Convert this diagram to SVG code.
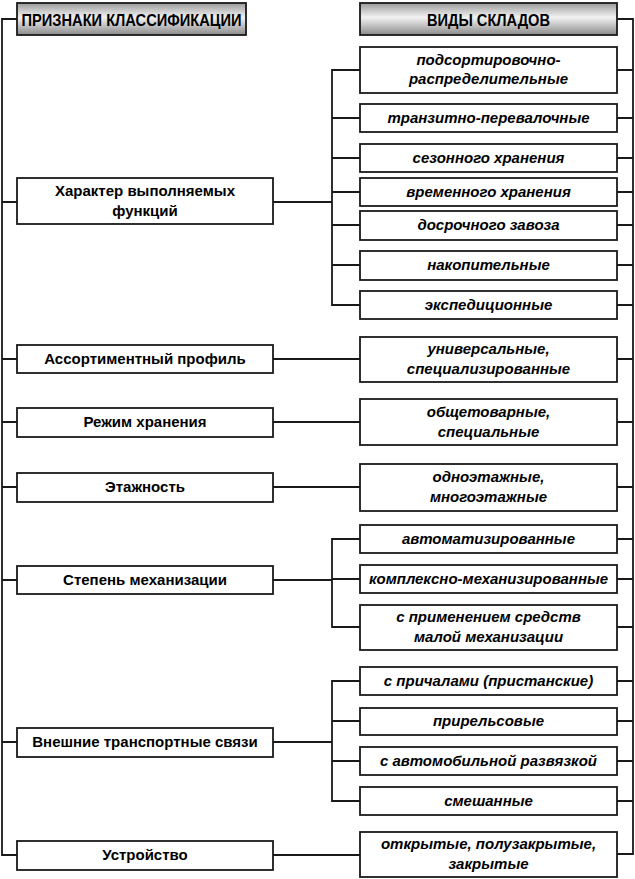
<svg xmlns="http://www.w3.org/2000/svg" width="635" height="879" viewBox="0 0 635 879">
<style>
.box{fill:#fff;stroke:#1a1a1a;stroke-width:1.8}
.hdr{fill:url(#g);stroke:#1a1a1a;stroke-width:1.8}
.ln{fill:none;stroke:#1a1a1a;stroke-width:1.8}
.lt{font-family:"Liberation Sans",Arial,sans-serif;font-weight:bold;font-size:15px;fill:#000;text-anchor:middle}
.rt{font-family:"Liberation Sans",Arial,sans-serif;font-weight:bold;font-style:italic;font-size:15px;fill:#000;text-anchor:middle}
.ht{font-family:"Liberation Sans",Arial,sans-serif;font-weight:bold;font-size:17px;fill:#000;text-anchor:middle}
</style>
<defs>
<linearGradient id="g" x1="0" y1="0" x2="0" y2="1">
<stop offset="0" stop-color="#9a9a9a"/>
<stop offset="0.45" stop-color="#f2f2f2"/>
<stop offset="1" stop-color="#8a8a8a"/>
</linearGradient>
</defs>
<g id="connectors">
<path class="ln" d="M17,19 H2 V855 H17"/>
<path class="ln" d="M2,202 H17 M2,359 H17 M2,422 H17 M2,487 H17 M2,580 H17 M2,742 H17"/>
<path class="ln" d="M617,19 H633 V854 H617"/>
<path class="ln" d="M617,70 H633 M617,118 H633 M617,158 H633 M617,192 H633 M617,225 H633 M617,265 H633 M617,305 H633 M617,359 H633 M617,422 H633 M617,487 H633 M617,539 H633 M617,579 H633 M617,627 H633 M617,681 H633 M617,721 H633 M617,761 H633 M617,801 H633"/>
<path class="ln" d="M273,202 H332 M360,70 H332 V305 H360 M332,118 H360 M332,158 H360 M332,192 H360 M332,225 H360 M332,265 H360"/>
<path class="ln" d="M273,359 H360 M273,422 H360 M273,487 H360 M273,855 H360"/>
<path class="ln" d="M273,580 H332 M360,539 H332 V627 H360 M332,579 H360"/>
<path class="ln" d="M273,742 H332 M360,681 H332 V801 H360 M332,721 H360 M332,761 H360"/>
</g>
<g id="hdr-left"><rect class="hdr" x="17" y="3" width="229" height="32"/><text class="ht" x="131.5" y="25.5" textLength="220" lengthAdjust="spacingAndGlyphs">ПРИЗНАКИ КЛАССИФИКАЦИИ</text></g>
<g id="hdr-right"><rect class="hdr" x="360" y="3" width="257" height="32"/><text class="ht" x="488.5" y="25.5" textLength="123" lengthAdjust="spacingAndGlyphs">ВИДЫ СКЛАДОВ</text></g>

<g id="l1"><rect class="box" x="17" y="178" width="256" height="46"/><text class="lt" x="145" y="196">Характер выполняемых</text><text class="lt" x="145" y="216">функций</text></g>
<g id="l2"><rect class="box" x="17" y="345" width="256" height="28"/><text class="lt" x="145" y="364">Ассортиментный профиль</text></g>
<g id="l3"><rect class="box" x="17" y="408" width="256" height="29"/><text class="lt" x="145" y="427">Режим хранения</text></g>
<g id="l4"><rect class="box" x="17" y="473" width="256" height="29"/><text class="lt" x="145" y="492">Этажность</text></g>
<g id="l5"><rect class="box" x="17" y="566" width="256" height="28"/><text class="lt" x="145" y="585">Степень механизации</text></g>
<g id="l6"><rect class="box" x="17" y="728" width="256" height="29"/><text class="lt" x="145" y="747">Внешние транспортные связи</text></g>
<g id="l7"><rect class="box" x="17" y="841" width="256" height="29"/><text class="lt" x="145" y="860">Устройство</text></g>

<g id="r1"><rect class="box" x="360" y="47" width="257" height="46"/><text class="rt" x="488.5" y="65">подсортировочно-</text><text class="rt" x="488.5" y="84">распределительные</text></g>
<g id="r2"><rect class="box" x="360" y="104" width="257" height="28"/><text class="rt" x="488.5" y="123">транзитно-перевалочные</text></g>
<g id="r3"><rect class="box" x="360" y="144" width="257" height="28"/><text class="rt" x="488.5" y="163">сезонного хранения</text></g>
<g id="r4"><rect class="box" x="360" y="178" width="257" height="28"/><text class="rt" x="488.5" y="197">временного хранения</text></g>
<g id="r5"><rect class="box" x="360" y="211" width="257" height="29"/><text class="rt" x="488.5" y="230">досрочного завоза</text></g>
<g id="r6"><rect class="box" x="360" y="251" width="257" height="29"/><text class="rt" x="488.5" y="270">накопительные</text></g>
<g id="r7"><rect class="box" x="360" y="291" width="257" height="28"/><text class="rt" x="488.5" y="310">экспедиционные</text></g>
<g id="r8"><rect class="box" x="360" y="337" width="257" height="45"/><text class="rt" x="488.5" y="354">универсальные,</text><text class="rt" x="488.5" y="374">специализированные</text></g>
<g id="r9"><rect class="box" x="360" y="399" width="257" height="46"/><text class="rt" x="488.5" y="417">общетоварные,</text><text class="rt" x="488.5" y="437">специальные</text></g>
<g id="r10"><rect class="box" x="360" y="464" width="257" height="47"/><text class="rt" x="488.5" y="482">одноэтажные,</text><text class="rt" x="488.5" y="502">многоэтажные</text></g>
<g id="r11"><rect class="box" x="360" y="525" width="257" height="28"/><text class="rt" x="488.5" y="544">автоматизированные</text></g>
<g id="r12"><rect class="box" x="360" y="565" width="257" height="28"/><text class="rt" x="488.5" y="584">комплексно-механизированные</text></g>
<g id="r13"><rect class="box" x="360" y="605" width="257" height="45"/><text class="rt" x="488.5" y="622">с применением средств</text><text class="rt" x="488.5" y="642">малой механизации</text></g>
<g id="r14"><rect class="box" x="360" y="667" width="257" height="28"/><text class="rt" x="488.5" y="686">с причалами (пристанские)</text></g>
<g id="r15"><rect class="box" x="360" y="708" width="257" height="27"/><text class="rt" x="488.5" y="726">прирельсовые</text></g>
<g id="r16"><rect class="box" x="360" y="747" width="257" height="28"/><text class="rt" x="488.5" y="766">с автомобильной развязкой</text></g>
<g id="r17"><rect class="box" x="360" y="787" width="257" height="28"/><text class="rt" x="488.5" y="806">смешанные</text></g>
<g id="r18"><rect class="box" x="360" y="832" width="257" height="45"/><text class="rt" x="488.5" y="849">открытые, полузакрытые,</text><text class="rt" x="488.5" y="869">закрытые</text></g>
</svg>
